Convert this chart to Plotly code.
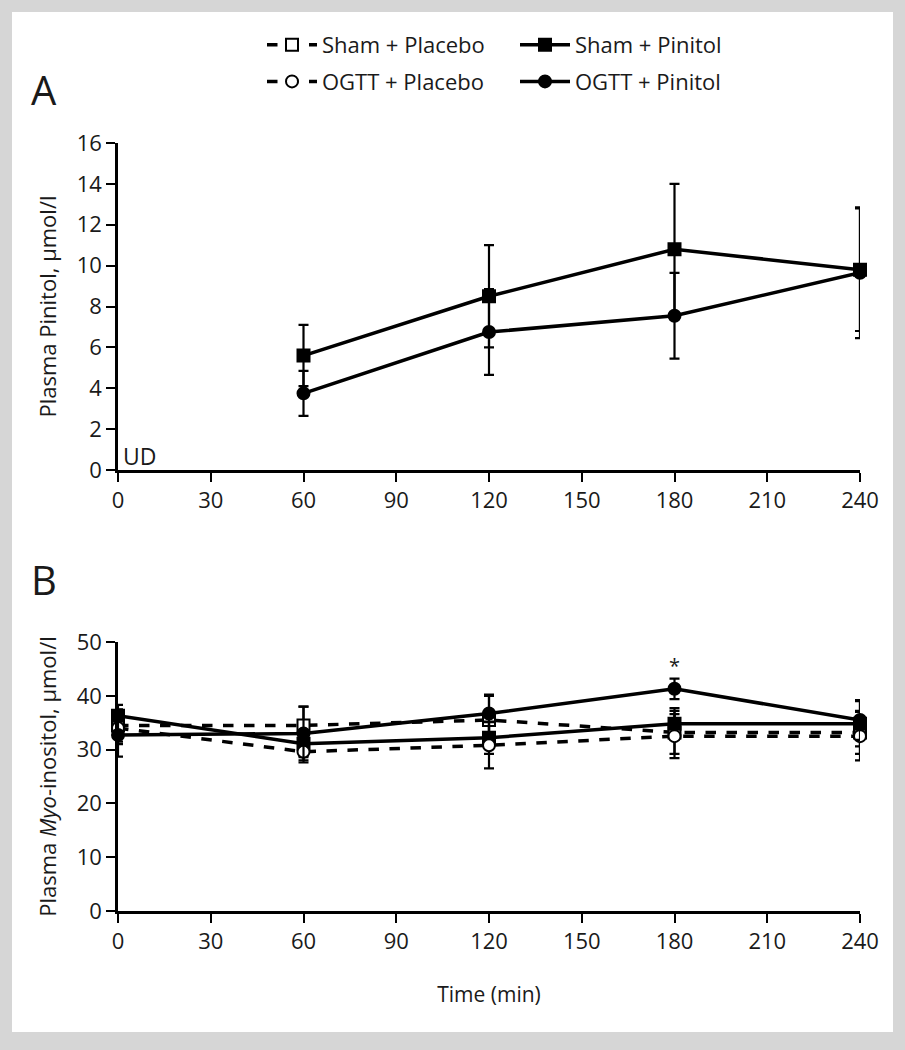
import plotly.graph_objects as go

# ---------------- data ----------------
time_a = [60, 120, 180, 240]
a_sham_pinitol = [5.6, 8.5, 10.8, 9.8]
a_sham_pinitol_err = [1.5, 2.5, 3.2, 3.0]
a_ogtt_pinitol = [3.75, 6.75, 7.55, 9.65]
a_ogtt_pinitol_err = [1.1, 2.1, 2.1, 3.2]

time_b = [0, 60, 120, 180, 240]
b_sham_placebo = [34.5, 34.5, 35.5, 33.2, 33.2]
b_sham_placebo_err = [3.0, 3.5, 4.5, 4.0, 4.0]
b_sham_pinitol = [36.3, 31.1, 32.2, 34.8, 34.8]
b_sham_pinitol_err = [2.0, 2.5, 3.0, 2.9, 4.2]
b_ogtt_placebo = [34.0, 29.6, 30.8, 32.5, 32.5]
b_ogtt_placebo_err = [3.0, 2.0, 4.3, 4.1, 4.5]
b_ogtt_pinitol = [32.7, 33.0, 36.7, 41.3, 35.5]
b_ogtt_pinitol_err = [4.0, 5.0, 3.5, 1.9, 3.7]

x_ticks = [0, 30, 60, 90, 120, 150, 180, 210, 240]
a_y_ticks = [0, 2, 4, 6, 8, 10, 12, 14, 16]
b_y_ticks = [0, 10, 20, 30, 40, 50]

series_names = ["Sham + Placebo", "Sham + Pinitol", "OGTT + Placebo", "OGTT + Pinitol"]

FONT = "Open Sans"
TXT = "#1a1a1a"
W, H = 905, 1050

fig = go.Figure()


def add_series(x, y, err, name, symbol, filled, dash, xaxis, yaxis, showlegend, legend):
    fig.add_trace(go.Scatter(
        x=x, y=y, name=name, mode="lines+markers",
        xaxis=xaxis, yaxis=yaxis, showlegend=showlegend, legendgroup=name, legend=legend,
        line=dict(color="black", width=3.5, dash=dash),
        marker=dict(symbol=symbol, size=12, color="black" if filled else "white",
                    line=dict(color="black", width=2)),
        error_y=dict(type="data", array=err, visible=True, color="black",
                     thickness=2.2, width=5),
        cliponaxis=False,
    ))


# Panel B traces (also provide the legend)
add_series(time_b, b_sham_placebo, b_sham_placebo_err, series_names[0], "square", False, "dash", "x2", "y2", True, "legend")
add_series(time_b, b_sham_pinitol, b_sham_pinitol_err, series_names[1], "square", True, "solid", "x2", "y2", True, "legend2")
add_series(time_b, b_ogtt_placebo, b_ogtt_placebo_err, series_names[2], "circle", False, "dash", "x2", "y2", True, "legend")
add_series(time_b, b_ogtt_pinitol, b_ogtt_pinitol_err, series_names[3], "circle", True, "solid", "x2", "y2", True, "legend2")

# Panel A traces
add_series(time_a, a_sham_pinitol, a_sham_pinitol_err, series_names[1], "square", True, "solid", "x", "y", False, "legend2")
add_series(time_a, a_ogtt_pinitol, a_ogtt_pinitol_err, series_names[3], "circle", True, "solid", "x", "y", False, "legend2")

x_dom = [118 / W, 860 / W]
a_dom = [1 - 470 / H, 1 - 143 / H]
b_dom = [1 - 911 / H, 1 - 642 / H]

axis_common = dict(
    showline=True, linecolor="black", linewidth=2.5, ticks="outside",
    ticklen=9, tickwidth=2, tickcolor="black", showgrid=False, zeroline=False,
    tickfont=dict(family=FONT, size=22, color=TXT), automargin=False,
)

legend_common = dict(orientation="v", xanchor="left", yanchor="top", y=1 - 24 / H,
                     font=dict(family=FONT, size=22, color=TXT),
                     bgcolor="rgba(0,0,0,0)", itemwidth=50, tracegroupgap=5)

fig.update_layout(
    width=W, height=H,
    margin=dict(l=0, r=0, t=0, b=0, autoexpand=False),
    paper_bgcolor="#d6d6d6",
    plot_bgcolor="white",
    font=dict(family=FONT, color=TXT),
    xaxis=dict(domain=x_dom, anchor="y", range=[0, 240], tickvals=x_ticks, **axis_common),
    yaxis=dict(domain=a_dom, anchor="x", range=[0, 16], tickvals=a_y_ticks,
               title=dict(text="Plasma Pinitol, µmol/l", font=dict(family=FONT, size=22), standoff=14),
               **axis_common),
    xaxis2=dict(domain=x_dom, anchor="y2", range=[0, 240], tickvals=x_ticks,
                title=dict(text="Time (min)", font=dict(family=FONT, size=21), standoff=34),
                **axis_common),
    yaxis2=dict(domain=b_dom, anchor="x2", range=[0, 50], tickvals=b_y_ticks,
                title=dict(text="Plasma <i>Myo</i>-inositol, µmol/l", font=dict(family=FONT, size=22), standoff=14),
                **axis_common),
    legend=dict(x=262 / W, **legend_common),
    legend2=dict(x=515 / W, **legend_common),
    shapes=[dict(type="rect", xref="paper", yref="paper", x0=12 / W, x1=893 / W,
                 y0=1 - 1032 / H, y1=1 - 12 / H, fillcolor="white", line=dict(width=0),
                 layer="below")],
    annotations=[
        dict(text="A", xref="paper", yref="paper", x=29 / W, y=1 - 60 / H, xanchor="left", yanchor="top",
             showarrow=False, font=dict(family=FONT, size=40, color=TXT)),
        dict(text="B", xref="paper", yref="paper", x=29 / W, y=1 - 550 / H, xanchor="left", yanchor="top",
             showarrow=False, font=dict(family=FONT, size=40, color=TXT)),
        dict(text="UD", xref="x", yref="y", x=1, y=0, xanchor="left", yanchor="bottom", yshift=-4,
             showarrow=False, font=dict(family=FONT, size=23, color=TXT)),
        dict(text="*", xref="x2", yref="y2", x=180, y=45.6, xanchor="center", yanchor="middle",
             showarrow=False, font=dict(family=FONT, size=20, color=TXT)),
    ],
)

fig.write_html("out.html", config={"displayModeBar": False},
               post_script="document.body.style.margin='0';document.body.style.overflow='hidden';")
